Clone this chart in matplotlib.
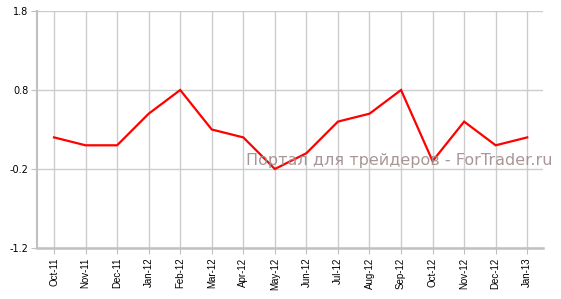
import matplotlib
matplotlib.use("Agg")
import matplotlib.pyplot as plt

months = ["Oct-11", "Nov-11", "Dec-11", "Jan-12", "Feb-12", "Mar-12", "Apr-12", "May-12",
          "Jun-12", "Jul-12", "Aug-12", "Sep-12", "Oct-12", "Nov-12", "Dec-12", "Jan-13"]
values = [0.2, 0.1, 0.1, 0.5, 0.8, 0.3, 0.2, -0.2, 0.0, 0.4, 0.5, 0.8, -0.1, 0.4, 0.1, 0.2]
yticks = [-1.2, -0.2, 0.8, 1.8]

fig = plt.figure(figsize=(5.61, 2.99), dpi=100)
ax = fig.add_axes([37/561, 1-248/299, (543-37)/561, (248-11)/299])

x = list(range(len(months)))
ax.plot(x, values, color="#ff0000", lw=1.6, zorder=3, solid_joinstyle="miter")

ax.set_xlim(-0.54, len(months) - 1 + 0.5)
ax.set_ylim(-1.2, 1.8)
ax.set_yticks(yticks)
ax.set_yticklabels([f"{v:.1f}" for v in yticks], family="DejaVu Sans", fontsize=7)
ax.set_xticks(x)
ax.set_xticklabels(months, rotation=90, family="Liberation Sans", fontsize=7)

ax.grid(True, color="#cccccc", lw=1.0, zorder=0)
for s in ["top", "right"]:
    ax.spines[s].set_visible(False)
ax.spines["left"].set_color("#c0c0c0")
ax.spines["left"].set_linewidth(1.5)
ax.spines["bottom"].set_color("#c0c0c0")
ax.spines["bottom"].set_linewidth(1.8)
ax.tick_params(axis="y", length=4, color="#c0c0c0", pad=2)
ax.tick_params(axis="x", length=4, color="#c0c0c0", pad=3)

fig.text(399/561, 1-161/299, "Портал для трейдеров - ForTrader.ru", ha="center", va="center",
         fontsize=11.5, color="#a08c8c", alpha=0.9, family="DejaVu Sans", zorder=5)

fig.savefig("out.png", dpi=100)
